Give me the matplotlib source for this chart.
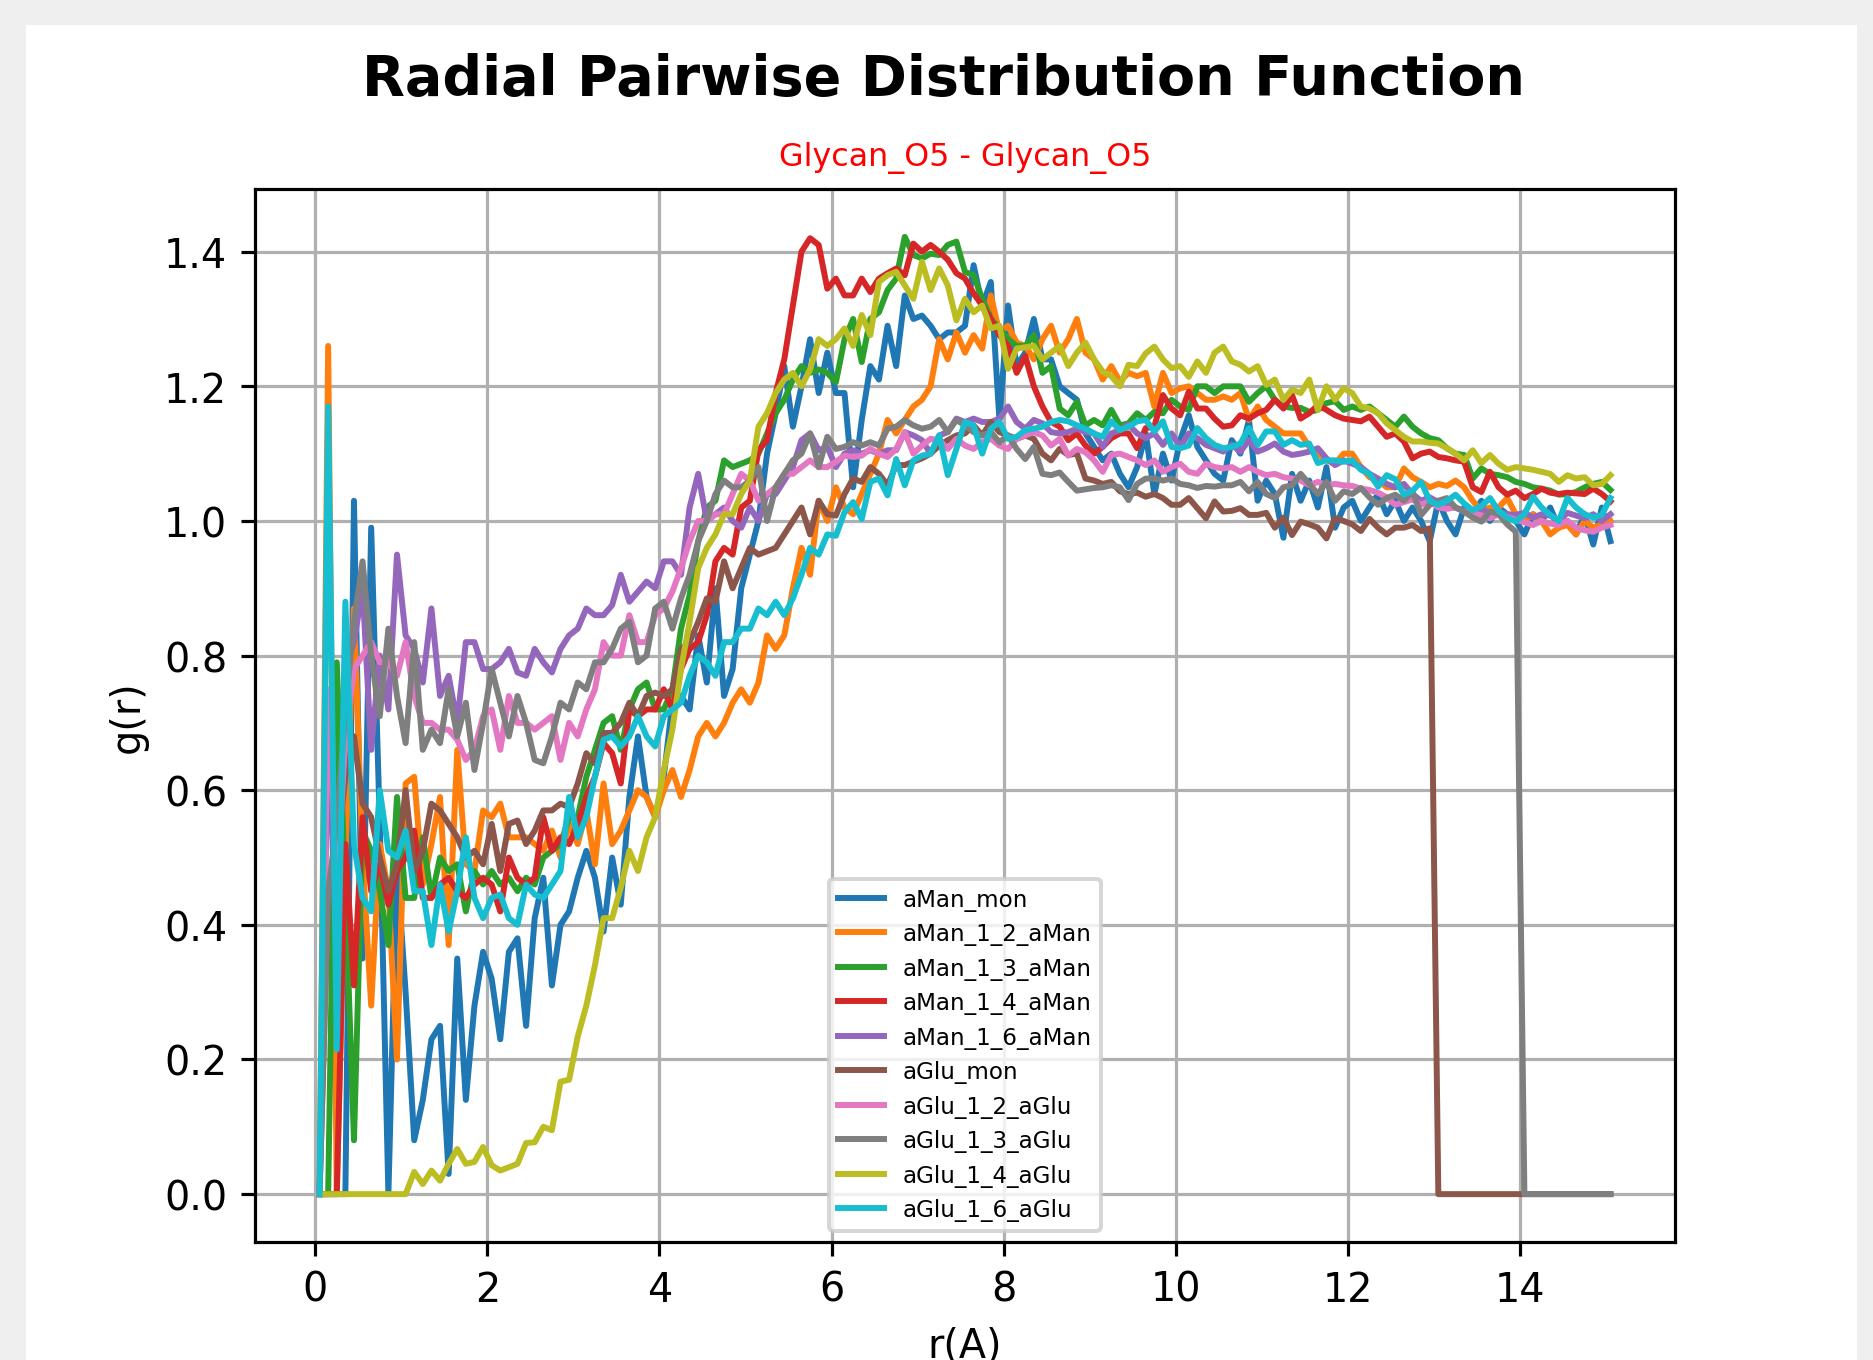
import numpy as np
import matplotlib
matplotlib.use("Agg")
import matplotlib.pyplot as plt
from matplotlib.patches import Rectangle

# r grid (bin centres, A)
r = np.round(np.arange(0.05, 15.06, 0.1), 2)

labels = ["aMan_mon", "aMan_1_2_aMan", "aMan_1_3_aMan", "aMan_1_4_aMan", "aMan_1_6_aMan",
          "aGlu_mon", "aGlu_1_2_aGlu", "aGlu_1_3_aGlu", "aGlu_1_4_aGlu", "aGlu_1_6_aGlu"]

aMan_mon = [0, 0, 0, 0, 1.03, 0.35, 0.99, 0.55, 0.0, 0.49, 0.30, 0.08, 0.14, 0.23, 0.25, 0.03, 0.35, 0.14, 0.28, 0.36,
            0.32, 0.23, 0.36, 0.38, 0.25, 0.41, 0.47, 0.31, 0.40, 0.42,
            0.47, 0.51, 0.47, 0.39, 0.50, 0.43, 0.59, 0.68, 0.59, 0.56, 0.62, 0.73, 0.74, 0.72, 0.83, 0.76, 0.90, 0.74,
            0.78, 0.90, 0.95, 1.00, 1.10, 1.16, 1.23, 1.14, 1.20, 1.27, 1.19, 1.25,
            1.19, 1.19, 1.05, 1.15, 1.23, 1.21, 1.29, 1.23, 1.335, 1.30, 1.305, 1.29, 1.27, 1.28, 1.28, 1.29, 1.38, 1.32,
            1.355, 1.15, 1.32, 1.23, 1.25, 1.30, 1.24, 1.24, 1.20, 1.19, 1.18, 1.13,
            1.11, 1.09, 1.10, 1.07, 1.05, 1.08, 1.13, 1.04, 1.10, 1.06, 1.12, 1.157, 1.11, 1.09, 1.07, 1.06, 1.12, 1.10,
            1.15, 1.03, 1.06, 1.04, 0.975, 1.07, 1.03, 1.06, 1.02, 1.08, 0.99, 1.02,
            1.03, 1.00, 1.02, 1.04, 1.01, 1.03, 1.00, 1.02, 1.00, 0.97, 1.03, 1.00, 0.98, 1.02, 1.01, 1.03, 1.00, 1.02,
            1.01, 1.00, 0.98, 1.01, 1.00, 1.02, 0.99, 1.00, 0.98, 1.01, 0.965, 1.02, 0.97]

aMan_1_2 = [0, 1.26, 0.0, 0.50, 0.87, 0.50, 0.28, 0.52, 0.45, 0.20, 0.61, 0.62, 0.46, 0.52, 0.59, 0.37, 0.66, 0.49, 0.48, 0.57,
            0.56, 0.58, 0.53, 0.53, 0.53, 0.52, 0.51, 0.54, 0.50, 0.55,
            0.52, 0.57, 0.49, 0.61, 0.52, 0.54, 0.57, 0.60, 0.59, 0.56, 0.60, 0.63, 0.59, 0.63, 0.68, 0.70, 0.68, 0.70,
            0.73, 0.75, 0.73, 0.76, 0.83, 0.81, 0.83, 0.90, 0.96, 0.92, 1.03, 1.00,
            1.05, 1.02, 1.01, 1.04, 1.07, 1.10, 1.15, 1.13, 1.15, 1.17, 1.18, 1.20, 1.27, 1.24, 1.28, 1.25, 1.276, 1.256,
            1.335, 1.28, 1.29, 1.265, 1.26, 1.24, 1.27, 1.29, 1.25, 1.27, 1.30, 1.25,
            1.24, 1.21, 1.23, 1.207, 1.22, 1.215, 1.22, 1.17, 1.22, 1.19, 1.197, 1.20, 1.19, 1.18, 1.18, 1.185, 1.18, 1.19,
            1.15, 1.17, 1.15, 1.14, 1.13, 1.13, 1.13, 1.11, 1.10, 1.09, 1.085, 1.10,
            1.10, 1.08, 1.065, 1.06, 1.05, 1.05, 1.078, 1.065, 1.058, 1.05, 1.055, 1.052, 1.06, 1.05, 1.03, 1.014, 1.02,
            1.02, 1.034, 1.01, 1.00, 1.01, 1.00, 0.98, 0.99, 0.994, 0.98, 1.00, 0.99, 0.995, 1.00]

aMan_1_3 = [0, 0.0, 0.79, 0.45, 0.08, 0.54, 0.51, 0.45, 0.37, 0.59, 0.44, 0.44, 0.53, 0.44, 0.50, 0.48, 0.49, 0.42, 0.48, 0.46,
            0.48, 0.46, 0.47, 0.45, 0.47, 0.46, 0.50, 0.51, 0.52, 0.56,
            0.56, 0.62, 0.66, 0.70, 0.71, 0.66, 0.72, 0.75, 0.76, 0.72, 0.72, 0.75, 0.84, 0.89, 0.97, 1.02, 1.03, 1.09,
            1.08, 1.085, 1.09, 1.10, 1.13, 1.16, 1.18, 1.21, 1.23, 1.22, 1.225, 1.22,
            1.206, 1.27, 1.30, 1.236, 1.30, 1.31, 1.343, 1.36, 1.422, 1.395, 1.39, 1.397, 1.395, 1.41, 1.415, 1.37, 1.365,
            1.33, 1.30, 1.286, 1.27, 1.26, 1.26, 1.276, 1.22, 1.23, 1.167, 1.157, 1.177, 1.142,
            1.15, 1.142, 1.165, 1.142, 1.145, 1.16, 1.15, 1.162, 1.16, 1.18, 1.17, 1.165, 1.20, 1.20, 1.19, 1.20, 1.20,
            1.20, 1.177, 1.19, 1.20, 1.18, 1.17, 1.168, 1.168, 1.162, 1.165, 1.175, 1.178, 1.165,
            1.17, 1.165, 1.17, 1.16, 1.15, 1.14, 1.155, 1.14, 1.13, 1.123, 1.12, 1.108, 1.10, 1.098, 1.063, 1.078, 1.07,
            1.068, 1.065, 1.058, 1.055, 1.05, 1.048, 1.045, 1.039, 1.04, 1.043, 1.05, 1.055, 1.058, 1.046]

aMan_1_4 = [0, 0, 0.0, 0.52, 0.31, 0.56, 0.45, 0.49, 0.43, 0.48, 0.50, 0.54, 0.44, 0.44, 0.46, 0.47, 0.45, 0.44, 0.46, 0.47,
            0.46, 0.42, 0.50, 0.47, 0.46, 0.47, 0.56, 0.51, 0.53, 0.52,
            0.55, 0.59, 0.62, 0.67, 0.655, 0.61, 0.72, 0.71, 0.72, 0.72, 0.75, 0.72, 0.78, 0.81, 0.82, 0.86, 0.94, 0.96,
            0.95, 1.02, 1.03, 1.105, 1.12, 1.19, 1.24, 1.32, 1.40, 1.42, 1.41, 1.345,
            1.36, 1.335, 1.335, 1.36, 1.34, 1.36, 1.368, 1.375, 1.365, 1.412, 1.40, 1.41, 1.40, 1.388, 1.368, 1.36, 1.338,
            1.32, 1.30, 1.276, 1.26, 1.22, 1.245, 1.20, 1.17, 1.147, 1.14, 1.12, 1.13, 1.112,
            1.10, 1.11, 1.123, 1.13, 1.13, 1.108, 1.138, 1.14, 1.187, 1.167, 1.157, 1.192, 1.167, 1.167, 1.152, 1.14,
            1.142, 1.157, 1.152, 1.16, 1.165, 1.18, 1.167, 1.187, 1.152, 1.16, 1.172, 1.165, 1.157, 1.152,
            1.15, 1.148, 1.155, 1.14, 1.125, 1.13, 1.118, 1.093, 1.10, 1.103, 1.095, 1.093, 1.09, 1.088, 1.05, 1.043,
            1.073, 1.05, 1.039, 1.045, 1.034, 1.04, 1.048, 1.042, 1.04, 1.042, 1.041, 1.04, 1.048, 1.04, 1.029]

aMan_1_6 = [0, 0.70, 0.35, 0.78, 0.82, 0.90, 0.66, 0.80, 0.72, 0.95, 0.83, 0.81, 0.76, 0.87, 0.74, 0.77, 0.70, 0.82, 0.82, 0.78,
            0.78, 0.79, 0.81, 0.775, 0.77, 0.81, 0.79, 0.775, 0.81, 0.83,
            0.84, 0.87, 0.86, 0.86, 0.875, 0.92, 0.88, 0.895, 0.91, 0.90, 0.94, 0.94, 0.92, 1.02, 1.07, 1.00, 1.01, 1.02,
            1.00, 0.99, 1.02, 1.00, 1.04, 1.04, 1.06, 1.08, 1.12, 1.13, 1.105, 1.11,
            1.08, 1.10, 1.105, 1.10, 1.105, 1.10, 1.105, 1.105, 1.132, 1.127, 1.12, 1.10, 1.127, 1.132, 1.152, 1.147,
            1.152, 1.147, 1.147, 1.152, 1.17, 1.147, 1.137, 1.15, 1.145, 1.132, 1.13, 1.132, 1.137, 1.132,
            1.13, 1.11, 1.13, 1.135, 1.143, 1.13, 1.123, 1.13, 1.113, 1.13, 1.11, 1.13, 1.123, 1.113, 1.108, 1.103,
            1.113, 1.103, 1.12, 1.103, 1.108, 1.115, 1.103, 1.098, 1.10, 1.103, 1.108, 1.093, 1.083, 1.09,
            1.085, 1.08, 1.07, 1.063, 1.055, 1.05, 1.055, 1.04, 1.03, 1.035, 1.028, 1.025, 1.02, 1.015, 1.014, 1.018,
            1.012, 1.014, 1.01, 1.009, 1.012, 1.005, 1.01, 1.008, 1.0, 1.012, 1.008, 1.004, 1.01, 1.0, 1.01]

aGlu_mon = [0, 0.45, 0.50, 0.62, 0.68, 0.58, 0.56, 0.50, 0.45, 0.49, 0.60, 0.48, 0.51, 0.58, 0.57, 0.55, 0.53, 0.50, 0.51, 0.49,
            0.55, 0.48, 0.55, 0.555, 0.52, 0.54, 0.57, 0.57, 0.58, 0.575,
            0.61, 0.655, 0.64, 0.685, 0.685, 0.70, 0.73, 0.71, 0.74, 0.745, 0.74, 0.75, 0.81, 0.82, 0.85, 0.885, 0.88,
            0.94, 0.90, 0.93, 0.96, 0.95, 0.955, 0.96, 0.98, 1.00, 1.02, 0.98, 1.03, 1.01,
            1.008, 1.04, 1.063, 1.058, 1.08, 1.07, 1.053, 1.083, 1.083, 1.088, 1.093, 1.10, 1.112, 1.12, 1.127, 1.13,
            1.142, 1.127, 1.147, 1.132, 1.127, 1.122, 1.127, 1.122, 1.10, 1.09, 1.107, 1.098, 1.10, 1.063,
            1.06, 1.055, 1.058, 1.044, 1.04, 1.042, 1.036, 1.04, 1.034, 1.024, 1.024, 1.034, 1.019, 1.004, 1.029, 1.014,
            1.015, 1.019, 1.009, 1.009, 1.012, 0.99, 1.005, 0.979, 0.999, 0.995, 0.99, 0.974, 1.004, 1.0,
            0.995, 0.985, 1.003, 0.99, 0.98, 0.99, 0.99, 0.994, 0.985, 0.989, 0, 0, 0, 0, 0, 0, 0, 0, 0, 0, 0,
            0, 0, 0, 0, 0, 0, 0, 0, 0, 0]

aGlu_1_2 = [0, 0.75, 0.45, 0.68, 0.78, 0.80, 0.82, 0.79, 0.79, 0.77, 0.82, 0.74, 0.70, 0.70, 0.69, 0.69, 0.675, 0.645, 0.66, 0.71,
            0.72, 0.66, 0.74, 0.70, 0.70, 0.69, 0.70, 0.71, 0.645, 0.70,
            0.68, 0.72, 0.75, 0.82, 0.80, 0.80, 0.86, 0.82, 0.82, 0.86, 0.87, 0.895, 0.93, 0.97, 1.0, 1.0, 1.01, 1.01,
            1.04, 1.07, 1.06, 1.03, 1.04, 1.05, 1.07, 1.07, 1.08, 1.09, 1.08, 1.08,
            1.088, 1.097, 1.095, 1.097, 1.107, 1.10, 1.095, 1.107, 1.132, 1.10, 1.112, 1.122, 1.12, 1.107, 1.122, 1.112,
            1.107, 1.117, 1.122, 1.112, 1.107, 1.122, 1.127, 1.132, 1.127, 1.112, 1.122, 1.097, 1.107, 1.102,
            1.09, 1.073, 1.098, 1.10, 1.095, 1.09, 1.083, 1.09, 1.073, 1.08, 1.085, 1.073, 1.07, 1.085, 1.08, 1.078,
            1.08, 1.073, 1.08, 1.073, 1.068, 1.07, 1.065, 1.063, 1.06, 1.053, 1.058, 1.053, 1.055, 1.053,
            1.052, 1.048, 1.046, 1.042, 1.035, 1.024, 1.028, 1.032, 1.024, 1.03, 1.02, 1.018, 1.02, 1.014, 1.012, 1.008,
            1.004, 1.01, 1.006, 1.002, 0.998, 0.994, 1.0, 0.996, 0.994, 1.0, 0.99, 0.986, 0.984, 0.99, 0.994]

aGlu_1_3 = [0, 0.45, 0.55, 0.72, 0.85, 0.94, 0.80, 0.71, 0.84, 0.74, 0.67, 0.82, 0.66, 0.69, 0.67, 0.75, 0.68, 0.73, 0.63, 0.70,
            0.78, 0.73, 0.68, 0.74, 0.70, 0.645, 0.64, 0.68, 0.73, 0.72,
            0.76, 0.75, 0.79, 0.79, 0.81, 0.84, 0.85, 0.79, 0.80, 0.87, 0.88, 0.84, 0.885, 0.92, 0.97, 1.0, 1.04, 1.06,
            1.05, 1.05, 1.06, 1.08, 1.0, 1.05, 1.07, 1.09, 1.10, 1.13, 1.08, 1.125,
            1.107, 1.11, 1.117, 1.112, 1.117, 1.112, 1.137, 1.14, 1.15, 1.142, 1.137, 1.14, 1.15, 1.132, 1.15, 1.142,
            1.132, 1.127, 1.132, 1.117, 1.127, 1.107, 1.092, 1.11, 1.07, 1.068, 1.072, 1.058, 1.045, 1.047,
            1.049, 1.05, 1.053, 1.05, 1.031, 1.055, 1.063, 1.063, 1.06, 1.063, 1.055, 1.053, 1.049, 1.052, 1.051, 1.053,
            1.053, 1.058, 1.044, 1.058, 1.04, 1.034, 1.05, 1.053, 1.07, 1.055, 1.04, 1.058, 1.03, 1.044,
            1.04, 1.049, 1.035, 1.024, 1.034, 1.039, 1.03, 1.044, 1.009, 1.024, 1.03, 1.034, 1.02, 1.014, 1.005, 0.999,
            1.014, 1.01, 0.995, 0.984, 0, 0, 0, 0, 0, 0, 0, 0, 0, 0, 0]

aGlu_1_4 = [0, 0, 0, 0, 0, 0, 0, 0, 0, 0, 0, 0.033, 0.015, 0.035, 0.02, 0.045, 0.067, 0.045, 0.048, 0.07,
            0.043, 0.035, 0.04, 0.045, 0.076, 0.077, 0.10, 0.095, 0.167, 0.17,
            0.234, 0.28, 0.34, 0.41, 0.41, 0.455, 0.51, 0.48, 0.53, 0.56, 0.63, 0.69, 0.78, 0.85, 0.93, 0.96, 0.98, 1.01,
            1.01, 1.04, 1.06, 1.14, 1.16, 1.19, 1.21, 1.22, 1.20, 1.225, 1.27, 1.26,
            1.27, 1.286, 1.26, 1.306, 1.276, 1.355, 1.365, 1.37, 1.35, 1.33, 1.385, 1.343, 1.375, 1.35, 1.298, 1.33, 1.31,
            1.32, 1.286, 1.29, 1.226, 1.256, 1.258, 1.26, 1.24, 1.25, 1.26, 1.23, 1.25, 1.265,
            1.24, 1.222, 1.215, 1.20, 1.232, 1.23, 1.249, 1.259, 1.24, 1.227, 1.23, 1.214, 1.237, 1.22, 1.25, 1.259,
            1.237, 1.232, 1.222, 1.23, 1.202, 1.21, 1.18, 1.195, 1.19, 1.21, 1.165, 1.20, 1.18, 1.197,
            1.19, 1.17, 1.167, 1.16, 1.145, 1.135, 1.125, 1.118, 1.118, 1.116, 1.115, 1.108, 1.10, 1.09, 1.105, 1.086,
            1.098, 1.085, 1.076, 1.08, 1.078, 1.076, 1.073, 1.07, 1.058, 1.068, 1.063, 1.065, 1.053, 1.055, 1.068]

aGlu_1_6 = [0, 1.17, 0.215, 0.88, 0.52, 0.44, 0.42, 0.60, 0.51, 0.50, 0.54, 0.45, 0.45, 0.37, 0.46, 0.39, 0.45, 0.53, 0.44, 0.41,
            0.44, 0.445, 0.41, 0.40, 0.46, 0.445, 0.44, 0.46, 0.48, 0.59,
            0.53, 0.56, 0.62, 0.675, 0.68, 0.665, 0.68, 0.71, 0.68, 0.665, 0.71, 0.72, 0.73, 0.77, 0.80, 0.79, 0.77, 0.82,
            0.82, 0.84, 0.84, 0.87, 0.86, 0.88, 0.86, 0.885, 0.92, 0.96, 0.95, 0.98,
            0.978, 1.013, 1.028, 1.003, 1.058, 1.063, 1.038, 1.092, 1.053, 1.09, 1.097, 1.10, 1.127, 1.068, 1.107, 1.147,
            1.142, 1.10, 1.137, 1.147, 1.122, 1.125, 1.135, 1.137, 1.14, 1.147, 1.15, 1.148, 1.142, 1.137,
            1.13, 1.125, 1.148, 1.135, 1.14, 1.148, 1.15, 1.133, 1.148, 1.11, 1.108, 1.112, 1.138, 1.123, 1.113, 1.108,
            1.11, 1.115, 1.138, 1.113, 1.133, 1.133, 1.113, 1.12, 1.113, 1.115, 1.086, 1.09, 1.09, 1.088,
            1.09, 1.076, 1.07, 1.051, 1.068, 1.062, 1.039, 1.045, 1.058, 1.03, 1.024, 1.03, 1.039, 1.026, 1.016, 1.022,
            1.034, 1.015, 1.005, 0.999, 1.01, 1.036, 1.02, 1.009, 1.0, 1.034, 1.02, 1.01, 1.005, 1.009, 1.034]

series = [aMan_mon, aMan_1_2, aMan_1_3, aMan_1_4, aMan_1_6,
          aGlu_mon, aGlu_1_2, aGlu_1_3, aGlu_1_4, aGlu_1_6]

W, H, DPI = 1873, 1361, 286
fig = plt.figure(figsize=(W / DPI, H / DPI), dpi=DPI, facecolor="#efefef")
# white page inside the grey screenshot frame, drawn under the axes
page = Rectangle((26 / W, 0), (1857 - 26) / W, (H - 26) / H, transform=fig.transFigure,
                 facecolor="white", edgecolor="none", zorder=-10)
fig.add_artist(page)

ax = fig.add_axes([255 / W, 1 - 1243 / H, (1675 - 255) / W, (1243 - 190) / H])
for lab, g in zip(labels, series):
    ax.plot(r, g, label=lab)

fig.text(944 / W, 1 - 80 / H, "Radial Pairwise Distribution Function",
         ha="center", va="center", fontsize=14, fontweight="bold")
ax.set_title("Glycan_O5 - Glycan_O5", color="red", fontsize=8)
ax.set_xlabel("r(A)")
ax.set_ylabel("g(r)")
ax.grid(True)
ax.legend(loc="lower center", fontsize="xx-small")

fig.savefig("out.png", dpi=DPI, facecolor=fig.get_facecolor())
